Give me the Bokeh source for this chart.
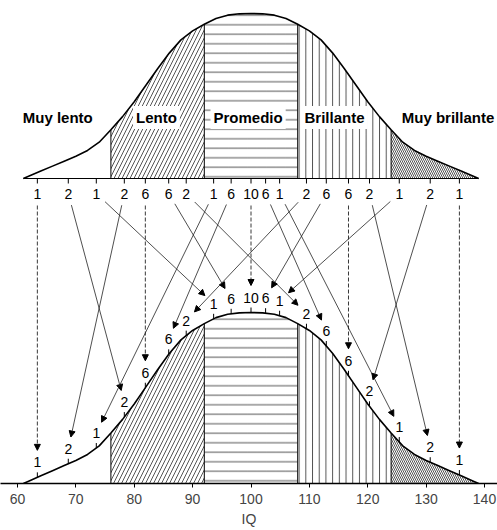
import numpy as np
from bokeh.plotting import figure
from bokeh.models import Range1d, Arrow, NormalHead, ColumnDataSource, FixedTicker
from bokeh.core.properties import value
from bokeh.embed import file_html
from bokeh.resources import INLINE

# ---------------- data ----------------
curve_iq = [61, 62, 64, 66, 68, 70, 72, 74, 76, 78, 80, 82, 84, 86, 88, 90, 92, 94, 96, 98, 100,
            102, 104, 106, 108, 110, 112, 114, 116, 118, 120, 122, 124, 126, 128, 130, 132, 134, 136, 138, 139]
curve_pct = [0, 1.5, 4.5, 7.5, 10.5, 13.5, 17, 22, 29.5, 37.5, 46.5, 56.5, 66.5, 76, 84, 89.5, 93.5, 97, 99, 99.8, 100,
             99.8, 99, 97, 93.5, 89.5, 84, 76, 66.5, 56.5, 46.5, 37.5, 29.5, 22, 17, 13.5, 10.5, 7.5, 4.5, 1.5, 0]
bounds = [61, 76, 92, 108, 124, 139]
regions = ["Muy lento", "Lento", "Promedio", "Brillante", "Muy brillante"]
region_label_iq = [66.9, 83.8, 99.5, 114.3, 133.75]
slot_iq = [63.4, 68.7, 73.5, 78.3, 81.9, 85.9, 88.9, 93.6, 96.6, 100.0,
           102.5, 104.9, 109.5, 112.9, 116.7, 120.3, 125.4, 130.7, 135.7]
slot_count = [1, 2, 1, 2, 6, 6, 2, 1, 6, 10, 6, 1, 2, 6, 6, 2, 1, 2, 1]
slot_target = [0, 3, 7, 1, 4, 8, 12, 2, 5, 9, 13, 16, 6, 10, 14, 17, 11, 15, 18]
x_ticks = [60, 70, 80, 90, 100, 110, 120, 130, 140]

# ---------------- layout constants ----------------
W, H = 497, 530
FRAME_H = 483
SX = 467 / 80.0             # px per IQ unit
X0 = 60 - 17 / SX
X1 = X0 + W / SX
TOP_BASE, TOP_H = 305, 165  # top curve baseline / height
BOT_BASE, BOT_H = 0, 171    # bottom curve baseline / height
TOP_LABEL_Y = 290
REGION_LABEL_Y = 366

hatches = [None, "/", "-", "|", "\\"]
hatch_scales = [8, 8, 9.5, 6.7, 4]
FONT = "Liberation Sans"

p = figure(width=W, height=H, x_range=Range1d(X0, X1), y_range=Range1d(0, FRAME_H),
           output_backend="svg", toolbar_location=None, y_axis_location=None,
           min_border_left=0, min_border_right=0, min_border_top=0,
           min_border_bottom=H - FRAME_H)
p.grid.visible = False
p.outline_line_color = None

ci = np.array(curve_iq, dtype=float)
cp = np.array(curve_pct, dtype=float)


def draw_curve(base, height):
    ys = base + cp / 100 * height
    for k in range(5):
        lo, hi = bounds[k], bounds[k + 1]
        m = (ci >= lo) & (ci <= hi)
        px = [lo] + list(ci[m]) + [hi]
        py = [base] + list(ys[m]) + [base]
        if hatches[k] is None:
            p.patch(px, py, fill_color="white", line_color=None)
        else:
            p.patch(px, py, fill_color="white", line_color=None,
                    hatch_pattern=hatches[k], hatch_scale=hatch_scales[k],
                    hatch_color="#2a2a2a", hatch_weight=0.8)
    for b in bounds[1:-1]:
        yb = base + np.interp(b, ci, cp) / 100 * height
        p.segment(x0=[b], y0=[base], x1=[b], y1=[yb], line_color="black", line_width=1)
    p.line(ci, ys, line_color="black", line_width=1.6)


draw_curve(TOP_BASE, TOP_H)
draw_curve(BOT_BASE, BOT_H)

# top baseline and ticks
p.segment(x0=[curve_iq[0]], y0=[TOP_BASE], x1=[curve_iq[-1]], y1=[TOP_BASE], line_color="black", line_width=1.2)
p.segment(x0=slot_iq, y0=[TOP_BASE] * 19, x1=slot_iq, y1=[TOP_BASE - 5] * 19, line_color="black", line_width=1)

# region labels
p.text(x=region_label_iq, y=[REGION_LABEL_Y] * 5, text=regions, text_font=value(FONT),
       text_font_style="bold", text_font_size="15px", text_align="center", text_baseline="middle",
       text_color="black", background_fill_color="white", padding=3)

# top count labels
p.text(x=slot_iq, y=[TOP_LABEL_Y] * 19, text=[str(c) for c in slot_count], text_font=value(FONT),
       text_font_size="14px", text_align="center", text_baseline="middle", text_color="black")

# bottom labels on the lower curve
curve_at = np.interp(slot_iq, ci, cp) / 100 * BOT_H + BOT_BASE
bot_label_y = curve_at + 15
p.segment(x0=slot_iq, y0=curve_at, x1=slot_iq, y1=curve_at + 5, line_color="black", line_width=1)
p.text(x=slot_iq, y=bot_label_y, text=[str(c) for c in slot_count], text_font=value(FONT),
       text_font_size="14px", text_align="center", text_baseline="middle", text_color="black")

# arrows
vert = dict(x_start=[], y_start=[], x_end=[], y_end=[])
diag = dict(x_start=[], y_start=[], x_end=[], y_end=[])
for i, j in enumerate(slot_target):
    xt, yt = (slot_iq[i] - X0) * SX, TOP_LABEL_Y
    xb, yb = (slot_iq[j] - X0) * SX, bot_label_y[j]
    dx, dy = xb - xt, yb - yt
    L = np.hypot(dx, dy)
    ux, uy = dx / L, dy / L
    sxp, syp = xt + ux * 12, yt + uy * 12
    exp_, eyp = xb - ux * 12, yb - uy * 12
    d = vert if i == j else diag
    d["x_start"].append(sxp / SX + X0)
    d["y_start"].append(syp)
    d["x_end"].append(exp_ / SX + X0)
    d["y_end"].append(eyp)

p.add_layout(Arrow(source=ColumnDataSource(vert), x_start="x_start", y_start="y_start",
                   x_end="x_end", y_end="y_end", line_width=0.9, line_dash="4 2", line_color="#222",
                   end=NormalHead(size=6, fill_color="black", line_color="black")))
p.add_layout(Arrow(source=ColumnDataSource(diag), x_start="x_start", y_start="y_start",
                   x_end="x_end", y_end="y_end", line_width=0.8, line_color="#222",
                   end=NormalHead(size=6, fill_color="black", line_color="black")))

# axis
ax = p.xaxis[0]
ax.ticker = FixedTicker(ticks=x_ticks)
ax.axis_label = "IQ"
ax.axis_label_text_font = FONT
ax.axis_label_text_font_style = "normal"
ax.axis_label_text_font_size = "14px"
ax.axis_label_standoff = 4
ax.major_label_text_font = FONT
ax.major_label_text_font_size = "14px"
ax.major_label_standoff = 6
ax.major_tick_in = 0
ax.major_tick_out = 4
ax.minor_tick_in = 0
ax.minor_tick_out = 0
ax.axis_line_width = 1.5
ax.major_tick_line_width = 1

open("out.html", "w").write(file_html(p, INLINE))
